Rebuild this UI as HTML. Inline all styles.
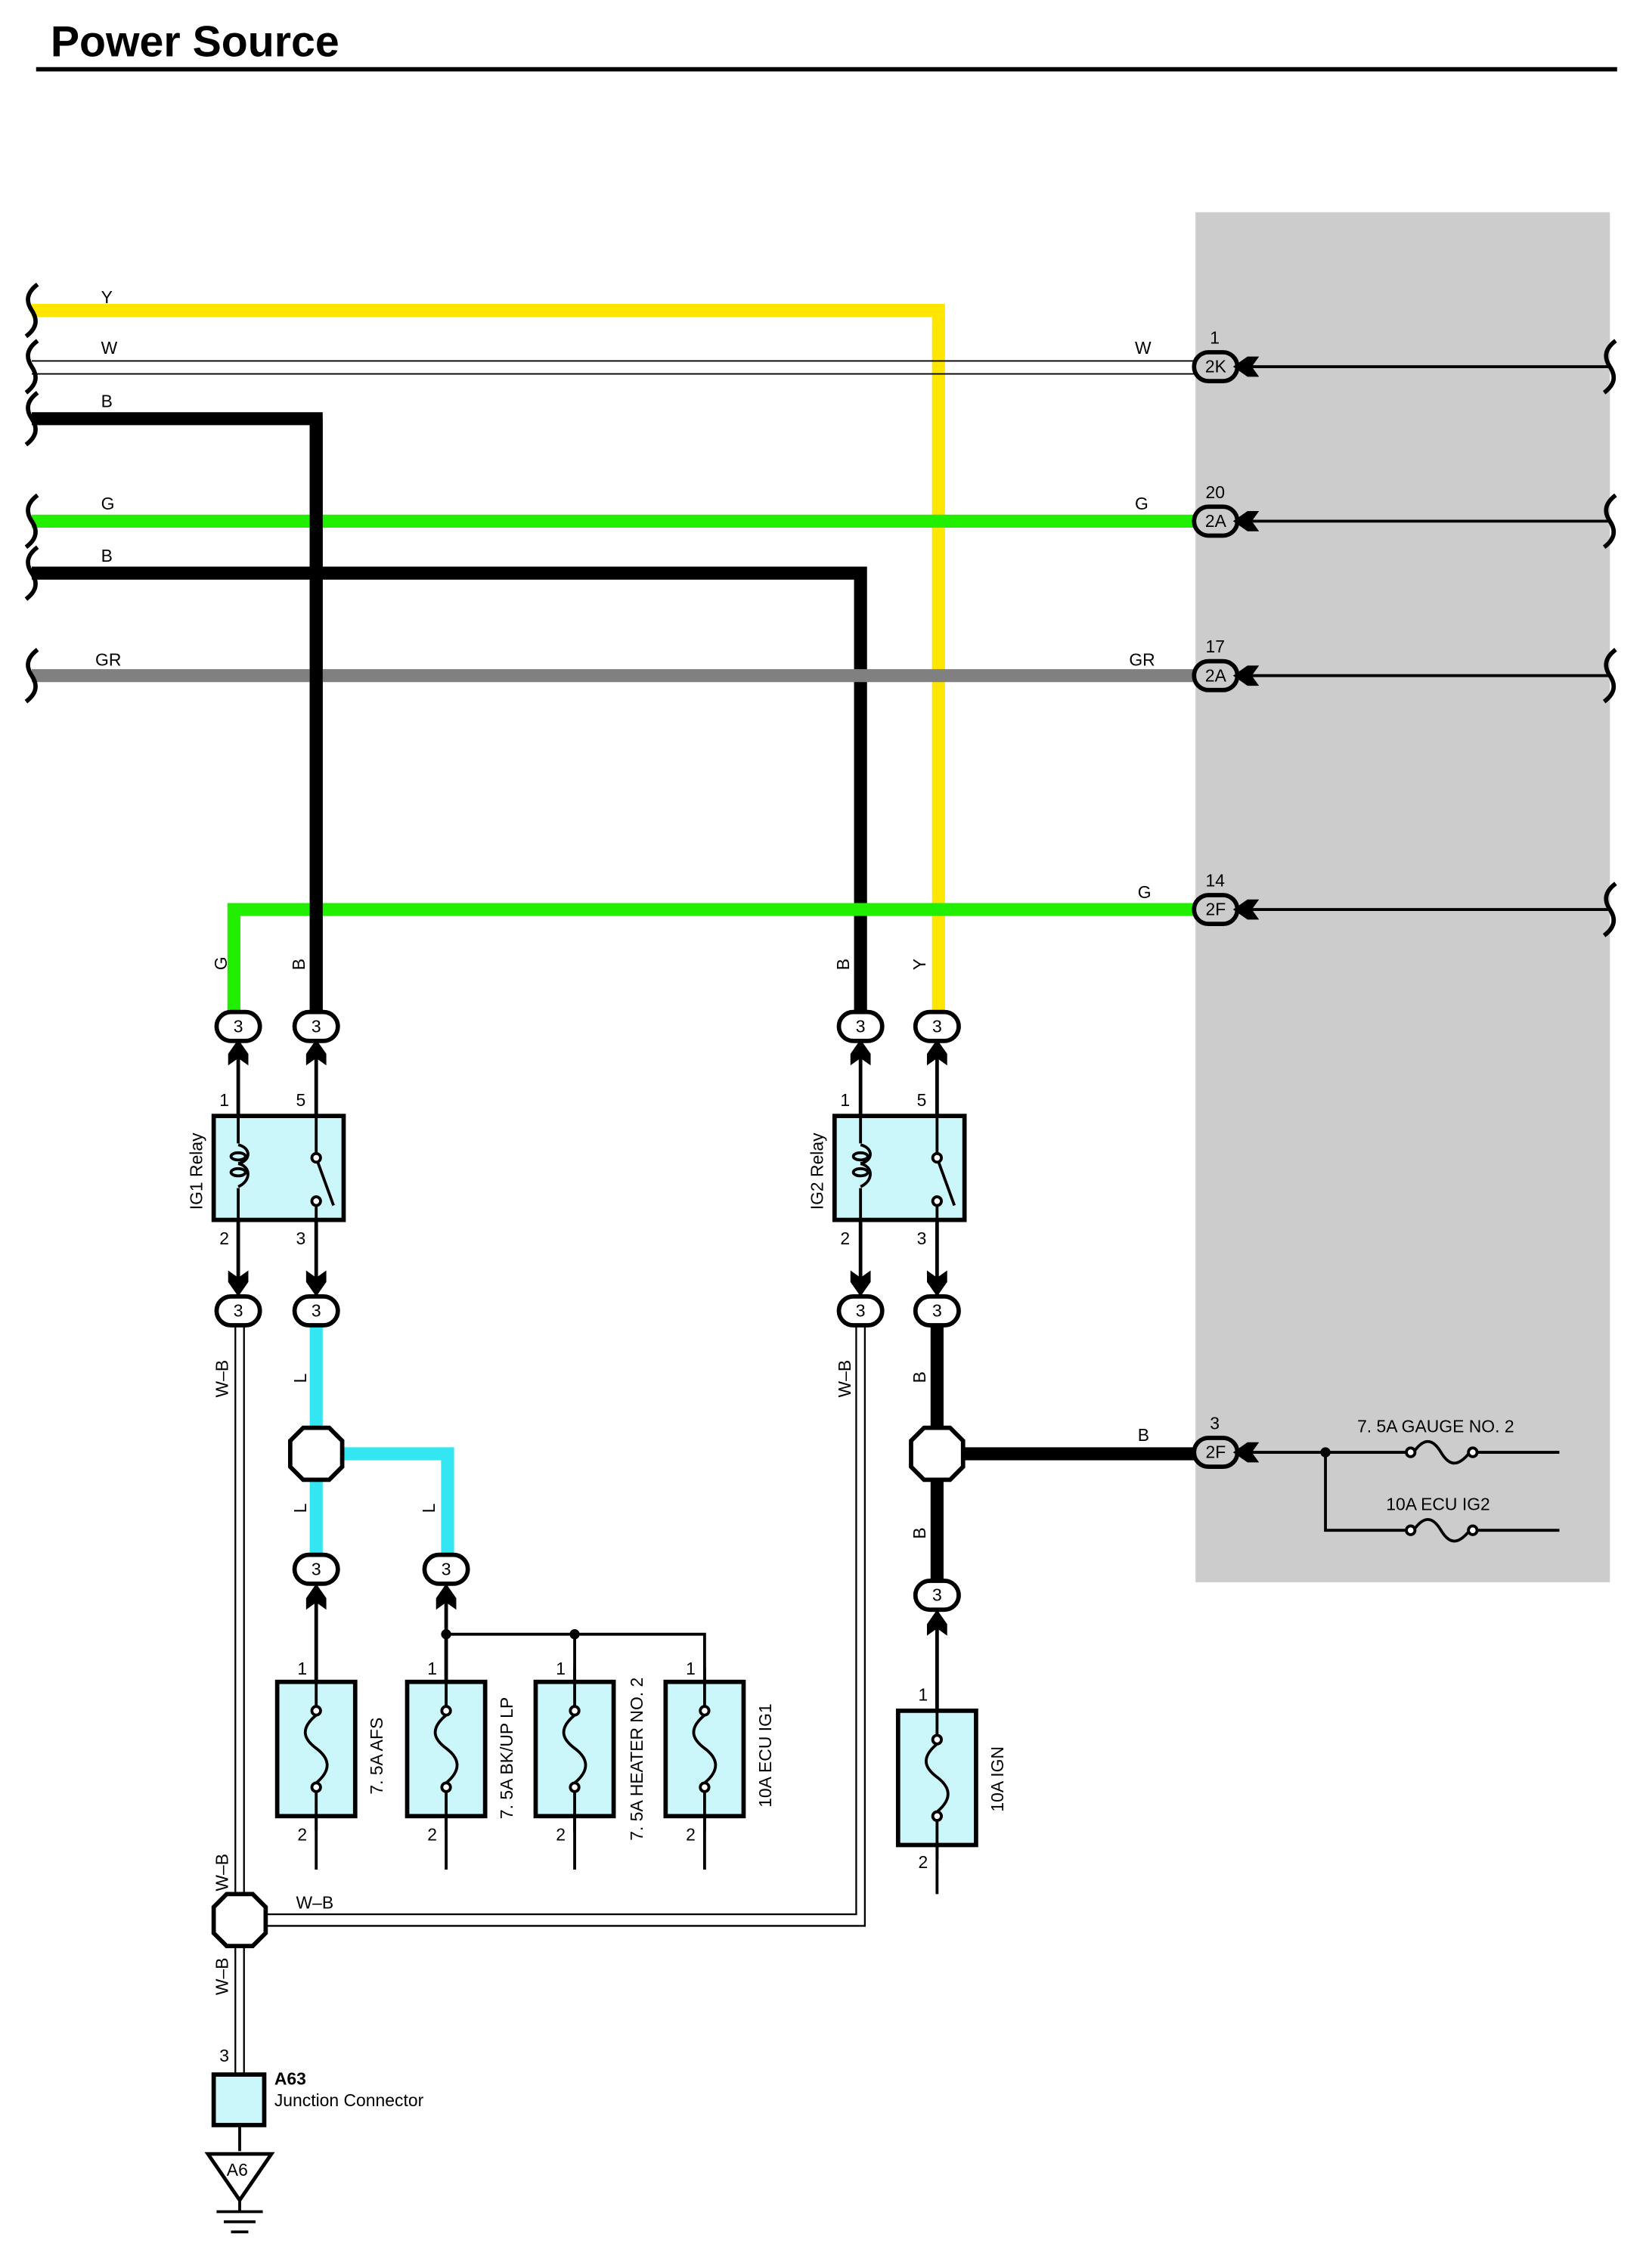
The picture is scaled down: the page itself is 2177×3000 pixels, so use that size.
<!DOCTYPE html>
<html><head><meta charset="utf-8"><style>html,body{margin:0;padding:0;background:#fff}svg{display:block}</style></head>
<body>
<svg width="2177" height="3000" viewBox="0 0 1140 1571" preserveAspectRatio="none" xmlns="http://www.w3.org/2000/svg" font-family="Liberation Sans, sans-serif">
<defs>
<g id="pill"><rect x="-15" y="-10" width="30" height="20" rx="10" fill="#fff" stroke="#000" stroke-width="3"/></g>
<g id="pillg"><rect x="-15" y="-10" width="30" height="20" rx="10" fill="#ccc" stroke="#000" stroke-width="3"/></g>
<g id="brace"><path d="M4,-18 C-4,-12 -4,-6 0,0 C4,6 4,12 -4,18" fill="none" stroke="#000" stroke-width="3"/></g>
<g id="arrUp"><path d="M0,-8 L7,2 L7,10 L0,5 L-7,10 L-7,2 Z" fill="#000"/></g>
<g id="arrDn"><path d="M0,8 L7,-2 L7,-10 L0,-5 L-7,-10 L-7,-2 Z" fill="#000"/></g>
<g id="arrL"><path d="M-8,0 L2,-7 L10,-7 L5,0 L10,7 L2,7 Z" fill="#000"/></g>
<g id="hex"><polygon points="-9,-18 9,-18 18,-9 18,9 9,18 -9,18 -18,9 -18,-9" fill="#fff" stroke="#000" stroke-width="3"/></g>
<g id="fuse"><rect x="-27" y="0" width="54" height="93" fill="#ccf7fa" stroke="#000" stroke-width="3"/><line x1="0" y1="-10" x2="0" y2="20" stroke="#000" stroke-width="2"/><line x1="0" y1="73" x2="0" y2="103" stroke="#000" stroke-width="2"/><circle cx="0" cy="20" r="3" fill="#fff" stroke="#000" stroke-width="2"/><circle cx="0" cy="73" r="3" fill="#fff" stroke="#000" stroke-width="2"/><path d="M0,23 C-12,33 -8,40 0,46 C8,52 12,60 0,70" fill="none" stroke="#000" stroke-width="2"/></g>
</defs>
<text x="35" y="39" font-size="30" font-weight="bold">Power Source</text>
<line x1="25" y1="48" x2="1120" y2="48" stroke="#000" stroke-width="3"/>
<rect x="828" y="147" width="287" height="949" fill="#cccccc"/>

<polyline points="22,215 650,215 650,700" fill="none" stroke="#ffe600" stroke-width="9"/>
<line x1="22" y1="250" x2="828" y2="250" stroke="#000" stroke-width="1"/>
<line x1="22" y1="259" x2="828" y2="259" stroke="#000" stroke-width="1"/>
<polyline points="22,290 219,290 219,700" fill="none" stroke="#000" stroke-width="9"/>
<line x1="22" y1="361" x2="828" y2="361" stroke="#22ee00" stroke-width="9"/>
<polyline points="22,397 596,397 596,700" fill="none" stroke="#000" stroke-width="9"/>
<line x1="22" y1="468" x2="828" y2="468" stroke="#808080" stroke-width="9"/>
<polyline points="828,630 162,630 162,700" fill="none" stroke="#22ee00" stroke-width="9"/>
<line x1="219" y1="290" x2="219" y2="700" stroke="#000" stroke-width="9"/>

<g font-size="12">
<text x="70" y="210">Y</text><text x="70" y="245">W</text><text x="70" y="282">B</text>
<text x="70" y="353">G</text><text x="70" y="389">B</text><text x="66" y="461">GR</text>
<text x="786" y="245">W</text><text x="786" y="353">G</text><text x="782" y="461">GR</text>
<text x="788" y="622">G</text><text x="788" y="998">B</text>
</g>
<g><use href="#brace" x="22" y="215"/><use href="#brace" x="22" y="254"/><use href="#brace" x="22" y="290"/><use href="#brace" x="22" y="361"/><use href="#brace" x="22" y="397"/><use href="#brace" x="22" y="468"/></g>
<g stroke="#000" stroke-width="2"><line x1="858" y1="254" x2="1115" y2="254"/><line x1="858" y1="361" x2="1115" y2="361"/><line x1="858" y1="468" x2="1115" y2="468"/><line x1="858" y1="630" x2="1115" y2="630"/></g>
<g><use href="#brace" x="1115" y="254"/><use href="#brace" x="1115" y="361"/><use href="#brace" x="1115" y="468"/><use href="#brace" x="1115" y="630"/></g>
<g font-size="12">
<use href="#pillg" x="842" y="254"/><text x="842" y="258" text-anchor="middle">2K</text><text x="838" y="238">1</text><use href="#arrL" x="862" y="254"/>
<use href="#pillg" x="842" y="361"/><text x="842" y="365" text-anchor="middle">2A</text><text x="835" y="345">20</text><use href="#arrL" x="862" y="361"/>
<use href="#pillg" x="842" y="468"/><text x="842" y="472" text-anchor="middle">2A</text><text x="835" y="452">17</text><use href="#arrL" x="862" y="468"/>
<use href="#pillg" x="842" y="630"/><text x="842" y="634" text-anchor="middle">2F</text><text x="835" y="614">14</text><use href="#arrL" x="862" y="630"/>
<use href="#pillg" x="842" y="1006"/><text x="842" y="1010" text-anchor="middle">2F</text><text x="838" y="990">3</text><use href="#arrL" x="862" y="1006"/>
</g>

<g font-size="12">
<text transform="translate(157,672) rotate(-90)">G</text><text transform="translate(211,672) rotate(-90)">B</text>
<text transform="translate(588,672) rotate(-90)">B</text><text transform="translate(641,672) rotate(-90)">Y</text>
<text transform="translate(158,968) rotate(-90)">W–B</text><text transform="translate(212,958) rotate(-90)">L</text>
<text transform="translate(589,968) rotate(-90)">W–B</text><text transform="translate(641,958) rotate(-90)">B</text>
<text transform="translate(212,1048) rotate(-90)">L</text><text transform="translate(301,1048) rotate(-90)">L</text>
<text transform="translate(641,1066) rotate(-90)">B</text>
<text transform="translate(158,1310) rotate(-90)">W–B</text><text transform="translate(158,1382) rotate(-90)">W–B</text>
<text x="205" y="1322">W–B</text>
</g>

<g stroke="#000" stroke-width="2.5">
<line x1="165" y1="720" x2="165" y2="900"/><line x1="219" y1="720" x2="219" y2="900"/>
<line x1="596" y1="720" x2="596" y2="900"/><line x1="649" y1="720" x2="649" y2="900"/>
</g>
<rect x="148" y="773" width="90" height="72" fill="#ccf7fa" stroke="#000" stroke-width="3"/>
<rect x="578" y="773" width="90" height="72" fill="#ccf7fa" stroke="#000" stroke-width="3"/>
<g fill="none" stroke="#000" stroke-width="2">
<line x1="165" y1="773" x2="165" y2="793"/><line x1="165" y1="822" x2="165" y2="845"/>
<line x1="596" y1="773" x2="596" y2="793"/><line x1="596" y1="822" x2="596" y2="845"/>
<line x1="219" y1="773" x2="219" y2="800"/><line x1="219" y1="834" x2="219" y2="845"/>
<line x1="649" y1="773" x2="649" y2="800"/><line x1="649" y1="834" x2="649" y2="845"/>
<line x1="219" y1="802" x2="231" y2="835"/><line x1="649" y1="802" x2="661" y2="835"/>
</g>
<rect x="160" y="792" width="10" height="31" fill="#ccf7fa"/><rect x="591" y="792" width="10" height="31" fill="#ccf7fa"/>
<g fill="none" stroke="#000" stroke-width="2">
<path d="M165,793 C174,795 174,804 165,806 M165,806 C174,808 174,818 165,822"/>
<ellipse cx="165" cy="801" rx="5" ry="2.5"/><ellipse cx="165" cy="812" rx="5" ry="2.5"/>
<path d="M596,793 C605,795 605,804 596,806 M596,806 C605,808 605,818 596,822"/>
<ellipse cx="596" cy="801" rx="5" ry="2.5"/><ellipse cx="596" cy="812" rx="5" ry="2.5"/>
</g>
<g fill="#fff" stroke="#000" stroke-width="2"><circle cx="219" cy="802" r="3"/><circle cx="219" cy="832" r="3"/><circle cx="649" cy="802" r="3"/><circle cx="649" cy="832" r="3"/></g>
<g font-size="12">
<text x="152" y="766">1</text><text x="205" y="766">5</text><text x="152" y="862">2</text><text x="205" y="862">3</text>
<text x="582" y="766">1</text><text x="635" y="766">5</text><text x="582" y="862">2</text><text x="635" y="862">3</text>
<text transform="translate(140,838) rotate(-90)">IG1 Relay</text><text transform="translate(570,838) rotate(-90)">IG2 Relay</text>
</g>
<g><use href="#arrUp" x="165" y="728"/><use href="#arrUp" x="219" y="728"/><use href="#arrUp" x="596" y="728"/><use href="#arrUp" x="649" y="728"/>
<use href="#arrDn" x="165" y="890"/><use href="#arrDn" x="219" y="890"/><use href="#arrDn" x="596" y="890"/><use href="#arrDn" x="649" y="890"/></g>

<g fill="none" stroke="#000" stroke-width="1.2">
<line x1="163" y1="918" x2="163" y2="1440"/><line x1="169" y1="918" x2="169" y2="1440"/>
<polyline points="593,918 593,1326 185,1326"/><polyline points="599,918 599,1334 185,1334"/>
</g>
<polyline points="219,918 219,1077" fill="none" stroke="#33e6f2" stroke-width="9"/>
<polyline points="219,1007 310,1007 310,1077" fill="none" stroke="#33e6f2" stroke-width="9"/>
<line x1="649" y1="918" x2="649" y2="1095" stroke="#000" stroke-width="9"/>
<line x1="649" y1="1007" x2="828" y2="1007" stroke="#000" stroke-width="9"/>
<use href="#hex" x="219" y="1007"/><use href="#hex" x="649" y="1007"/><use href="#hex" x="166" y="1330"/>

<g font-size="12">
<use href="#pill" x="165" y="711"/><text x="165" y="715" text-anchor="middle">3</text>
<use href="#pill" x="219" y="711"/><text x="219" y="715" text-anchor="middle">3</text>
<use href="#pill" x="596" y="711"/><text x="596" y="715" text-anchor="middle">3</text>
<use href="#pill" x="649" y="711"/><text x="649" y="715" text-anchor="middle">3</text>
<use href="#pill" x="165" y="908"/><text x="165" y="912" text-anchor="middle">3</text>
<use href="#pill" x="219" y="908"/><text x="219" y="912" text-anchor="middle">3</text>
<use href="#pill" x="596" y="908"/><text x="596" y="912" text-anchor="middle">3</text>
<use href="#pill" x="649" y="908"/><text x="649" y="912" text-anchor="middle">3</text>
<use href="#pill" x="219" y="1087"/><text x="219" y="1091" text-anchor="middle">3</text>
<use href="#pill" x="309" y="1087"/><text x="309" y="1091" text-anchor="middle">3</text>
<use href="#pill" x="649" y="1105"/><text x="649" y="1109" text-anchor="middle">3</text>
</g>
<g stroke="#000" stroke-width="2.5"><line x1="219" y1="1097" x2="219" y2="1165"/><line x1="309" y1="1097" x2="309" y2="1165"/><line x1="649" y1="1115" x2="649" y2="1185"/></g>
<use href="#arrUp" x="219" y="1105"/><use href="#arrUp" x="309" y="1105"/><use href="#arrUp" x="649" y="1123"/>
<g stroke="#000" stroke-width="2"><polyline points="309,1132 488,1132 488,1165" fill="none"/><line x1="398" y1="1132" x2="398" y2="1165"/></g>
<circle cx="309" cy="1132" r="3.5"/><circle cx="398" cy="1132" r="3.5"/>
<use href="#fuse" x="219" y="1165"/><use href="#fuse" x="309" y="1165"/><use href="#fuse" x="398" y="1165"/><use href="#fuse" x="488" y="1165"/>
<line x1="219" y1="1258" x2="219" y2="1295" stroke="#000" stroke-width="2"/><line x1="309" y1="1258" x2="309" y2="1295" stroke="#000" stroke-width="2"/><line x1="398" y1="1258" x2="398" y2="1295" stroke="#000" stroke-width="2"/><line x1="488" y1="1258" x2="488" y2="1295" stroke="#000" stroke-width="2"/>
<use href="#fuse" x="649" y="1185"/><line x1="649" y1="1278" x2="649" y2="1312" stroke="#000" stroke-width="2"/>
<g font-size="12">
<text x="206" y="1160">1</text><text x="296" y="1160">1</text><text x="385" y="1160">1</text><text x="475" y="1160">1</text>
<text x="206" y="1275">2</text><text x="296" y="1275">2</text><text x="385" y="1275">2</text><text x="475" y="1275">2</text>
<text x="636" y="1178">1</text><text x="636" y="1294">2</text>
<text transform="translate(265,1243) rotate(-90)">7. 5A AFS</text>
<text transform="translate(355,1260) rotate(-90)">7. 5A BK/UP LP</text>
<text transform="translate(445,1275) rotate(-90)">7. 5A HEATER NO. 2</text>
<text transform="translate(534,1252) rotate(-90)">10A ECU IG1</text>
<text transform="translate(695,1255) rotate(-90)">10A IGN</text>
</g>

<g fill="none" stroke="#000" stroke-width="2">
<line x1="858" y1="1006" x2="975" y2="1006"/><line x1="1022" y1="1006" x2="1080" y2="1006"/>
<polyline points="918,1006 918,1060 975,1060"/><line x1="1022" y1="1060" x2="1080" y2="1060"/>
<path d="M979,1006 C986,996 992,996 998,1006 C1004,1016 1010,1016 1018,1006"/>
<path d="M979,1060 C986,1050 992,1050 998,1060 C1004,1070 1010,1070 1018,1060"/>
<circle cx="977" cy="1006" r="3" fill="#fff"/><circle cx="1020" cy="1006" r="3" fill="#fff"/>
<circle cx="977" cy="1060" r="3" fill="#fff"/><circle cx="1020" cy="1060" r="3" fill="#fff"/>
</g>
<circle cx="918" cy="1006" r="3.5"/>
<g font-size="12"><text x="940" y="992">7. 5A GAUGE NO. 2</text><text x="960" y="1046">10A ECU IG2</text></g>

<rect x="148" y="1437" width="35" height="35" fill="#ccf7fa" stroke="#000" stroke-width="3"/>
<line x1="166" y1="1472" x2="166" y2="1490" stroke="#000" stroke-width="2"/>
<polygon points="144,1492 188,1492 166,1524" fill="#fff" stroke="#000" stroke-width="2.5"/>
<g stroke="#000" stroke-width="2"><line x1="166" y1="1524" x2="166" y2="1532"/><line x1="150" y1="1532" x2="182" y2="1532"/><line x1="155" y1="1539" x2="177" y2="1539"/><line x1="160" y1="1546" x2="172" y2="1546"/></g>
<g font-size="12"><text x="152" y="1428">3</text><text x="157" y="1507">A6</text>
<text x="190" y="1444" font-weight="bold">A63</text><text x="190" y="1459">Junction Connector</text></g>
</svg>
</body></html>
